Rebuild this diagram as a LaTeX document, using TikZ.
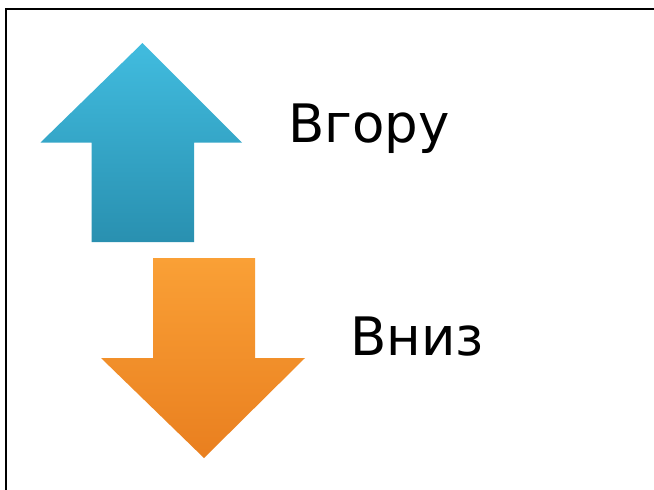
\documentclass[tikz,border=0pt]{standalone}
\usepackage{fontspec}
\setmainfont{DejaVu Sans}
\definecolor{bluetop}{HTML}{41BCDF}
\definecolor{bluebot}{HTML}{2990B0}
\definecolor{orangetop}{HTML}{FAA036}
\definecolor{orangebot}{HTML}{E97F1F}
\begin{document}
\begin{tikzpicture}[x=1pt,y=-1pt,
  label/.style={inner sep=0pt,anchor=base west,font=\fontsize{53}{60}\selectfont},
  frame/.style={line width=1.6pt,black}]
\useasboundingbox (0,0) rectangle (654,490);
\fill[white] (0,0) rectangle (654,490);
\draw[frame] (6,490) -- (6,9) -- (654,9);
% up arrow
\shade[top color=bluetop,bottom color=bluebot,drop shadow/.style={}]
  (142.5,43) -- (242,142.5) -- (194,142.5) -- (194,242) -- (91.5,242) -- (91.5,142.5) -- (40.5,142.5) -- cycle;
% down arrow
\shade[top color=orangetop,bottom color=orangebot]
  (153,258) -- (255,258) -- (255,358) -- (305,358) -- (204,458) -- (101,358) -- (153,358) -- cycle;
\node[label] (up) at (288,142) {Вгору};
\node[label] (down) at (350,355) {Вниз};
\end{tikzpicture}
\end{document}
